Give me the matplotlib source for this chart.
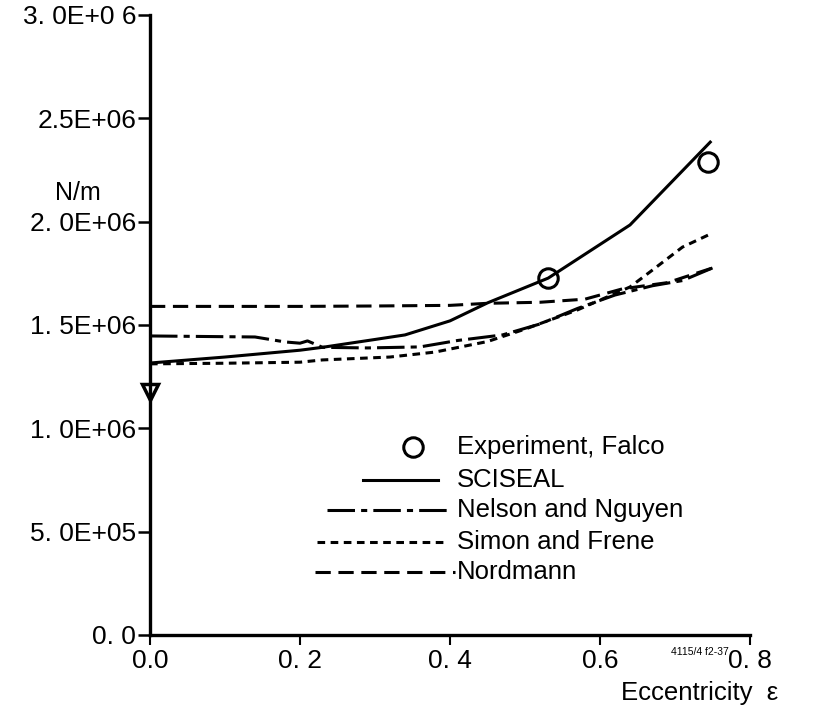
import matplotlib
matplotlib.use("Agg")
import matplotlib.pyplot as plt
from matplotlib.lines import Line2D

plt.rcParams['font.family'] = ['Liberation Sans', 'DejaVu Sans']

# Experimental data (Falco)
exp_x = [0.531, 0.744]
exp_y = [1.727e6, 2.287e6]
exp0_x = [0.0]
exp0_y = [1.176e6]

# SCISEAL
sci_x = [0.0, 0.1, 0.2, 0.23, 0.3, 0.34, 0.4, 0.45, 0.531, 0.64, 0.747]
sci_y = [1.316e6, 1.345e6, 1.378e6, 1.392e6, 1.430e6, 1.452e6, 1.520e6, 1.607e6,
         1.727e6, 1.984e6, 2.385e6]

# Nelson and Nguyen
nel_x = [0.0, 0.14, 0.18, 0.2, 0.21, 0.23, 0.29, 0.36, 0.41, 0.47, 0.52, 0.57,
         0.62, 0.67, 0.71, 0.75]
nel_y = [1.447e6, 1.442e6, 1.418e6, 1.412e6, 1.423e6, 1.392e6, 1.389e6, 1.394e6,
         1.425e6, 1.452e6, 1.505e6, 1.580e6, 1.645e6, 1.690e6, 1.715e6, 1.776e6]

# Simon and Frene
sim_x = [0.0, 0.1, 0.2, 0.23, 0.32, 0.38, 0.45, 0.5, 0.57, 0.64, 0.67, 0.71, 0.75]
sim_y = [1.312e6, 1.315e6, 1.320e6, 1.331e6, 1.345e6, 1.369e6, 1.420e6, 1.480e6,
         1.573e6, 1.684e6, 1.766e6, 1.877e6, 1.945e6]

# Nordmann
nor_x = [0.0, 0.1, 0.2, 0.3, 0.4, 0.45, 0.52, 0.58, 0.63, 0.69, 0.75]
nor_y = [1.590e6, 1.590e6, 1.590e6, 1.592e6, 1.595e6, 1.605e6, 1.610e6, 1.625e6,
         1.675e6, 1.705e6, 1.776e6]

xticks = [0.0, 0.2, 0.4, 0.6, 0.8]
xticklabels = ["0.0", "0. 2", "0. 4", "0.6", "0. 8"]
yticks = [0.0, 0.5e6, 1.0e6, 1.5e6, 2.0e6, 2.5e6, 3.0e6]
yticklabels = ["0. 0", "5. 0E+05", "1. 0E+06", "1. 5E+06", "2. 0E+06", "2.5E+06", "3. 0E+0 6"]

fig = plt.figure(figsize=(8.17, 7.15), dpi=100)
ax = fig.add_axes([150 / 817, 80 / 715, 600 / 817, 620 / 715])

lw = 2.2
ax.plot(sci_x, sci_y, color='black', lw=lw, ls='-')
ax.plot(nel_x, nel_y, color='black', lw=lw, ls=(0, (9, 2, 2, 2)))
ax.plot(sim_x, sim_y, color='black', lw=lw, ls=(0, (2.5, 1.8)))
ax.plot(nor_x, nor_y, color='black', lw=lw, ls=(0, (5, 2.5)))
ax.plot(exp_x, exp_y, ls='none', marker='o', ms=14, mfc='none', mec='black', mew=2.2)
ax.plot(exp0_x, exp0_y, ls='none', marker='v', ms=12, mfc='none', mec='black', mew=2.5,
        clip_on=False)

ax.set_xlim(0, 0.8)
ax.set_ylim(0, 3.0e6)
ax.set_xticks(xticks)
ax.set_xticklabels(xticklabels)
ax.set_yticks(yticks)
ax.set_yticklabels(yticklabels)

for s in ['top', 'right']:
    ax.spines[s].set_visible(False)
for s in ['left', 'bottom']:
    ax.spines[s].set_linewidth(2.4)

ax.tick_params(axis='y', direction='out', length=9, width=1.8, pad=1, labelsize=19)
ax.tick_params(axis='x', direction='out', length=7, width=1.5, pad=3, labelsize=19)

# Axis labels
ax.text(-0.12, 0.713, "N/m", transform=ax.transAxes, ha='center', va='center', fontsize=18)
ax.text(1.047, -0.094, "Eccentricity  \u03b5", transform=ax.transAxes, ha='right',
        va='center', fontsize=18.5)
ax.text(0.917, -0.027, "4115/4 f2-37", transform=ax.transAxes, ha='center',
        va='center', fontsize=7.5)

# Legend
rows = [0.303, 0.250, 0.202, 0.150, 0.102]
names = ["Experiment, Falco", "SCISEAL", "Nelson and Nguyen", "Simon and Frene", "Nordmann"]
ax.add_line(Line2D([0.438], [rows[0]], transform=ax.transAxes, ls='none', marker='o',
                   ms=14, mfc='none', mec='black', mew=2.2))
ax.add_line(Line2D([0.355, 0.48], [rows[1]] * 2, transform=ax.transAxes, color='black',
                   lw=lw, ls='-'))
ax.add_line(Line2D([0.295, 0.495], [rows[2]] * 2, transform=ax.transAxes, color='black',
                   lw=lw, ls=(0, (9, 2, 2, 2))))
ax.add_line(Line2D([0.278, 0.488], [rows[3]] * 2, transform=ax.transAxes, color='black',
                   lw=lw, ls=(0, (2.5, 1.8))))
ax.add_line(Line2D([0.275, 0.508], [rows[4]] * 2, transform=ax.transAxes, color='black',
                   lw=lw, ls=(0, (5, 2.5))))
for r, n in zip(rows, names):
    ax.text(0.512, r, n, transform=ax.transAxes, ha='left', va='center', fontsize=18.5)

fig.savefig("out.png", dpi=100)
